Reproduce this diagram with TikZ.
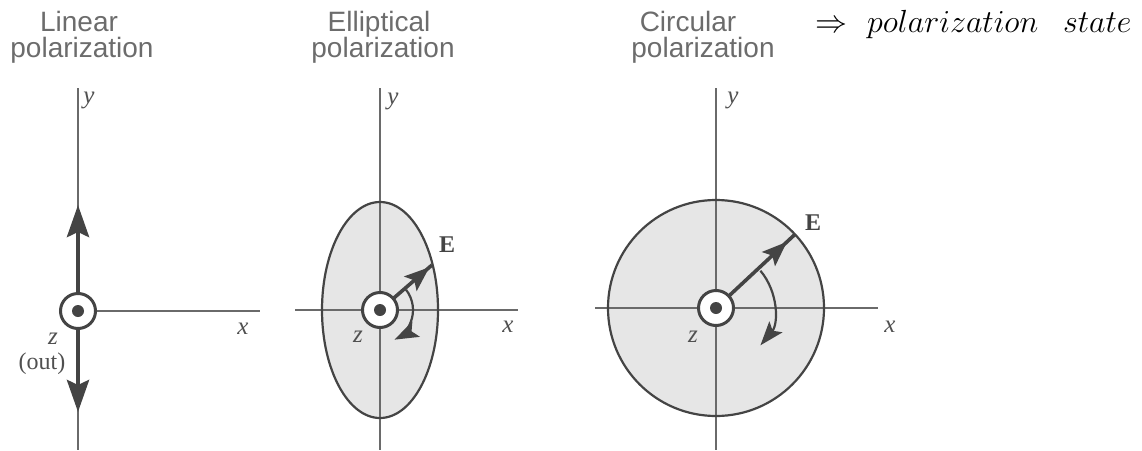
\RequirePackage{fix-cm}
\documentclass[tikz,border=0pt]{standalone}
\usepackage{fontspec}
\newfontfamily\titlefont{Liberation Sans}
\newfontfamily\labfont{Liberation Serif}
\usetikzlibrary{arrows.meta,decorations.markings}
\definecolor{axisgray}{HTML}{6A6A6A}
\definecolor{darkline}{HTML}{444444}
\definecolor{fillgray}{HTML}{E6E6E6}
\definecolor{titlegray}{HTML}{6C6C6C}
\definecolor{labelgray}{HTML}{505050}
\begin{document}
\begin{tikzpicture}[x=1pt,y=-1pt,
  axis/.style={draw=axisgray,line width=1.8pt},
  shapeline/.style={draw=darkline,line width=2.2pt},
  shapefill/.style={fill=fillgray},
  thickvec/.style={draw=darkline,line width=4.5pt,-{Stealth[length=32pt,width=22pt,inset=5pt]}},
  evec/.style={draw=darkline,line width=3.6pt,postaction={decorate},
    decoration={markings,mark=at position #1 with {\arrow{Stealth[length=25pt,width=19pt,inset=5pt]}}}},
  rotarc/.style={draw=darkline,line width=2.2pt,-{Stealth[length=24pt,width=17pt,inset=5pt]}},
  ring/.style={circle,draw=darkline,line width=3pt,fill=white,minimum size=35pt,inner sep=0pt},
  dot/.style={circle,fill=darkline,minimum size=12pt,inner sep=0pt},
  title/.style={text=titlegray,font=\titlefont\fontsize{28}{28}\selectfont,inner sep=0pt,anchor=base},
  lab/.style={text=labelgray,font=\labfont\itshape\fontsize{25}{25}\selectfont,inner sep=0pt},
  rlab/.style={text=labelgray,font=\labfont\fontsize{24}{24}\selectfont,inner sep=0pt},
  elab/.style={text=darkline,font=\labfont\bfseries\fontsize{24}{24}\selectfont,inner sep=0pt}]
\useasboundingbox (0,0) rectangle (1142,450);

% ---------- titles ----------
\node[title] (t1a) at (79,31) {Linear};
\node[title] (t1b) at (82,57) {polarization};
\node[title] (t2a) at (379,31) {Elliptical};
\node[title] (t2b) at (383,57) {polarization};
\node[title] (t3a) at (688,31) {Circular};
\node[title] (t3b) at (703,57) {polarization};
\node[anchor=base west,inner sep=0pt,font=\fontsize{32}{32}\selectfont] (res) at (815,32)
  {$\Rightarrow$\hspace{20pt}$polarization$\hspace{25pt}$state$};

% ---------- panel 1: linear ----------
\coordinate (o1) at (78,311);
\coordinate (y1top) at (78,88);
\coordinate (y1bot) at (78,450);
\coordinate (x1end) at (260,311);
\coordinate (v1up) at (78,205);
\coordinate (v1dn) at (78,412);
\draw[axis] (y1top) -- (y1bot);
\draw[axis] (o1) -- (x1end);
\draw[thickvec] (o1) -- (v1up);
\draw[thickvec] (o1) -- (v1dn);
\node[ring] (r1) at (o1) {};
\node[dot] (d1) at (o1) {};
\node[lab] (ly1) at (89,100) {y};
\node[lab] (lx1) at (243,329) {x};
\node[lab] (lz1) at (53,339) {z};
\node[rlab] (lo1) at (42,364) {(out)};

% ---------- panel 2: elliptical ----------
\coordinate (o2) at (380,310);
\coordinate (y2top) at (380,88);
\coordinate (y2bot) at (380,450);
\coordinate (x2beg) at (295,310);
\coordinate (x2end) at (518,310);
\coordinate (e2) at (432,265);
\fill[shapefill] (o2) ellipse[x radius=58pt,y radius=108pt];
\draw[axis] (y2top) -- (y2bot);
\draw[axis] (x2beg) -- (x2end);
\draw[shapeline] (o2) ellipse[x radius=58pt,y radius=108pt];
\draw[evec=0.95] (o2) -- (e2);
\draw[rotarc] (o2) ++(38:33pt) arc[start angle=38,end angle=-64,radius=33pt];
\node[ring] (r2) at (o2) {};
\node[dot] (d2) at (o2) {};
\node[lab] (ly2) at (393,101) {y};
\node[lab] (lx2) at (508,327) {x};
\node[lab] (lz2) at (358,337) {z};
\node[elab] (le2) at (447,245) {E};

% ---------- panel 3: circular ----------
\coordinate (o3) at (716,308);
\coordinate (y3top) at (716,88);
\coordinate (y3bot) at (716,450);
\coordinate (x3beg) at (595,308);
\coordinate (x3end) at (878,308);
\fill[shapefill] (o3) circle[radius=108pt];
\draw[axis] (y3top) -- (y3bot);
\draw[axis] (x3beg) -- (x3end);
\draw[shapeline] (o3) circle[radius=108pt];
\draw[evec=0.9] (o3) -- ++(43:108pt) coordinate (e3);
\draw[rotarc] (o3) ++(40:58pt) arc[start angle=40,end angle=-40,radius=58pt];
\node[ring] (r3) at (o3) {};
\node[dot] (d3) at (o3) {};
\node[lab] (ly3) at (733,100) {y};
\node[lab] (lx3) at (890,327) {x};
\node[lab] (lz3) at (693,337) {z};
\node[elab] (le3) at (813,223) {E};
\end{tikzpicture}
\end{document}
